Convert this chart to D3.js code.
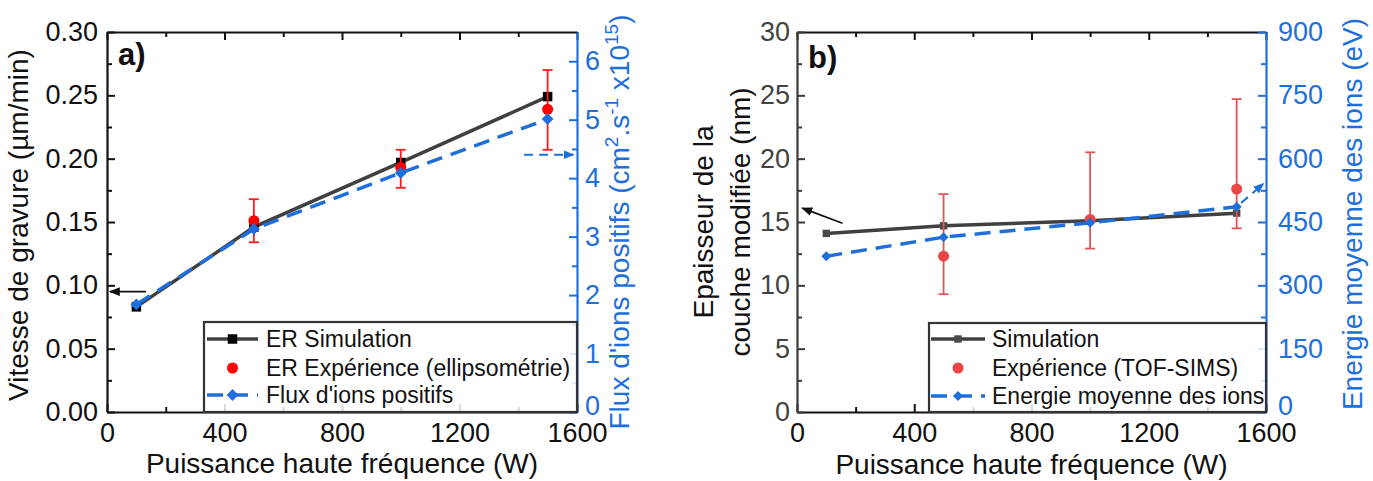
<!DOCTYPE html>
<html>
<head>
<meta charset="utf-8">
<script src="https://cdn.jsdelivr.net/npm/d3@7"></script>
<style>
  body { margin: 0; background: #fff; }
  text { font-family: "Liberation Sans", Arial, sans-serif; }
</style>
</head>
<body>
<svg id="chart" width="1373" height="481"></svg>
<script>
// ---- data panel a) ----
const powerA = [100, 500, 1000, 1500];
const erSimulation = [0.083, 0.146, 0.197, 0.249];
const erExpPower = [500, 1000, 1500];
const erExperience = [0.151, 0.193, 0.239];
const erExpLow = [0.134, 0.177, 0.207];
const erExpHigh = [0.168, 0.207, 0.270];
const ionFlux = [1.84, 3.13, 4.09, 5.01];

// ---- data panel b) ----
const powerB = [100, 500, 1000, 1500];
const thickSimulation = [14.1, 14.7, 15.1, 15.7];
const thickExpPower = [500, 1000, 1500];
const thickExperience = [12.3, 15.2, 17.6];
const thickLow = [9.3, 12.9, 14.5];
const thickHigh = [17.2, 20.5, 24.7];
const ionEnergy = [369, 414, 448, 486];

// ---- ticks ----
const xTicks = [0, 400, 800, 1200, 1600];
const xMinor = [200, 600, 1000, 1400];
const rateTicks = [0, 0.05, 0.10, 0.15, 0.20, 0.25, 0.30];
const rateMinor = [0.025, 0.075, 0.125, 0.175, 0.225, 0.275];
const fluxTicks = [0, 1, 2, 3, 4, 5, 6];
const fluxMinor = [0.5, 1.5, 2.5, 3.5, 4.5, 5.5];
const thickTicks = [0, 5, 10, 15, 20, 25, 30];
const thickMinor = [2.5, 7.5, 12.5, 17.5, 22.5, 27.5];
const energyTicks = [0, 150, 300, 450, 600, 750, 900];
const energyMinor = [75, 225, 375, 525, 675, 825];

// arrows pointing to the matching axis (data units)
const arrowRate = [[133, 0.095], [10, 0.095]];
const arrowFlux = [[1420, 4.4], [1588, 4.4]];
const arrowThick = [[155, 14.9], [18, 16.1]];
const arrowEnergy = [[1515, 495], [1592, 541]];

const BLUE = "#1e6fdc";
const svg = d3.select("#chart");

const defs = svg.append("defs");
function arrowHead(id, color) {
    defs.append("marker")
        .attr("id", id)
        .attr("viewBox", "0 0 10 8")
        .attr("refX", 9).attr("refY", 4)
        .attr("markerWidth", 11).attr("markerHeight", 9)
        .attr("markerUnits", "userSpaceOnUse")
        .attr("orient", "auto")
        .append("path")
        .attr("d", "M0,0 L10,4 L0,8 Z")
        .attr("fill", color);
}
arrowHead("headBlack", "#111");
arrowHead("headBlue", BLUE);

const square = d3.symbol().type(d3.symbolSquare);

function drawPanel(c) {
    const g = svg.append("g");
    const top = 32, bottom = 412;
    const x = d3.scaleLinear().domain([0, 1600]).range([c.left, c.right]);
    const y = d3.scaleLinear().domain([0, c.yMax]).range([bottom, top]);
    const y2 = d3.scaleLinear().domain([0, c.y2Max]).range([bottom, top]);

    // --- axes (ticks inside) ---
    function styleAxis(sel, color, textColor) {
        sel.selectAll("path.domain").attr("stroke", color).attr("stroke-width", 2.2);
        sel.selectAll(".tick line").attr("stroke", color).attr("stroke-width", 2);
        sel.selectAll(".tick text").attr("fill", textColor || color).style("font-size", "27px")
            .style("font-family", "'Liberation Sans', Arial, sans-serif");
    }
    function minor(axis, vals) {
        return axis.tickValues(vals).tickSize(-5).tickFormat("");
    }

    const gx = g.append("g").attr("transform", `translate(0,${bottom})`)
        .call(d3.axisBottom(x).tickValues(xTicks).tickSize(-8).tickSizeOuter(0)
            .tickPadding(11).tickFormat(d3.format("d")));
    styleAxis(gx, "#111");
    const gxm = g.append("g").attr("transform", `translate(0,${bottom})`).call(minor(d3.axisBottom(x), xMinor));
    gxm.select(".domain").remove(); styleAxis(gxm, "#111");

    const gt = g.append("g").attr("transform", `translate(0,${top})`)
        .call(d3.axisTop(x).tickValues(xTicks).tickSize(-8).tickSizeOuter(0).tickFormat(""));
    styleAxis(gt, "#111");
    const gtm = g.append("g").attr("transform", `translate(0,${top})`).call(minor(d3.axisTop(x), xMinor));
    gtm.select(".domain").remove(); styleAxis(gtm, "#111");

    const gl = g.append("g").attr("transform", `translate(${c.left},0)`)
        .call(d3.axisLeft(y).tickValues(c.yTicks).tickSize(-8).tickSizeOuter(0)
            .tickPadding(c.leftPad).tickFormat(c.yFormat));
    styleAxis(gl, c.leftColor, c.leftText);
    const glm = g.append("g").attr("transform", `translate(${c.left},0)`).call(minor(d3.axisLeft(y), c.yMinor));
    glm.select(".domain").remove(); styleAxis(glm, c.leftColor);

    const gr = g.append("g").attr("transform", `translate(${c.right},0)`)
        .call(d3.axisRight(y2).tickValues(c.y2Ticks).tickSize(-8).tickSizeOuter(0)
            .tickPadding(c.rightPad).tickFormat(d3.format("d")));
    styleAxis(gr, BLUE);
    // lift the "0" label a little so it clears the x tick labels
    gr.selectAll(".tick text").filter(d => d === 0).attr("dy", "0.1em");
    const grm = g.append("g").attr("transform", `translate(${c.right},0)`).call(minor(d3.axisRight(y2), c.y2Minor));
    grm.select(".domain").remove(); styleAxis(grm, BLUE);

    // --- simulation line + squares ---
    const simPts = c.power.map((p, i) => [p, c.sim[i]]);
    g.append("path")
        .datum(simPts)
        .attr("fill", "none")
        .attr("stroke", "#404040")
        .attr("stroke-width", 3.5)
        .attr("d", d3.line().x(d => x(d[0])).y(d => y(d[1])));
    g.selectAll(".sq")
        .data(simPts)
        .join("path")
        .attr("transform", d => `translate(${x(d[0])},${y(d[1])})`)
        .attr("d", square.size(c.sqSize))
        .attr("fill", c.sqColor);

    // --- experiment with error bars ---
    const expPts = c.expPower.map((p, i) => ({ p, v: c.exp[i], lo: c.expLow[i], hi: c.expHigh[i] }));
    const eb = g.selectAll(".eb").data(expPts).join("g").attr("stroke", c.errColor).attr("stroke-width", 1.8);
    eb.append("line").attr("x1", d => x(d.p)).attr("x2", d => x(d.p)).attr("y1", d => y(d.lo)).attr("y2", d => y(d.hi));
    eb.append("line").attr("x1", d => x(d.p) - 5).attr("x2", d => x(d.p) + 5).attr("y1", d => y(d.lo)).attr("y2", d => y(d.lo));
    eb.append("line").attr("x1", d => x(d.p) - 5).attr("x2", d => x(d.p) + 5).attr("y1", d => y(d.hi)).attr("y2", d => y(d.hi));
    g.selectAll(".dot")
        .data(expPts)
        .join("circle")
        .attr("cx", d => x(d.p))
        .attr("cy", d => y(d.v))
        .attr("r", c.dotR)
        .attr("fill", c.dotColor);

    // --- blue dashed series on right axis ---
    const bluePts = c.power.map((p, i) => [p, c.blue[i]]);
    g.append("path")
        .datum(bluePts)
        .attr("fill", "none")
        .attr("stroke", BLUE)
        .attr("stroke-width", 3.5)
        .attr("stroke-dasharray", "16,9")
        .attr("d", d3.line().x(d => x(d[0])).y(d => y2(d[1])));
    g.selectAll(".dia")
        .data(bluePts)
        .join("path")
        .attr("transform", d => `translate(${x(d[0])},${y2(d[1])}) rotate(45)`)
        .attr("d", square.size(c.diaSize))
        .attr("fill", BLUE);

    // --- arrows ---
    g.append("line")
        .attr("x1", x(c.arrowLeft[0][0])).attr("y1", y(c.arrowLeft[0][1]))
        .attr("x2", x(c.arrowLeft[1][0])).attr("y2", y(c.arrowLeft[1][1]))
        .attr("stroke", "#111").attr("stroke-width", 1.8)
        .attr("marker-end", "url(#headBlack)");
    g.append("line")
        .attr("x1", x(c.arrowRight[0][0])).attr("y1", y2(c.arrowRight[0][1]))
        .attr("x2", x(c.arrowRight[1][0])).attr("y2", y2(c.arrowRight[1][1]))
        .attr("stroke", BLUE).attr("stroke-width", 2)
        .attr("stroke-dasharray", "9,6")
        .attr("marker-end", "url(#headBlue)");

    // --- legend ---
    const L = c.legend;
    const lg = g.append("g");
    lg.append("rect")
        .attr("x", L.x).attr("y", L.y).attr("width", c.right - L.x).attr("height", bottom - L.y)
        .attr("fill", "#fff").attr("fill-opacity", 0.85)
        .attr("stroke", "#333").attr("stroke-width", 2.2);
    const mid = (L.x0 + L.x1) / 2;
    L.labels.forEach((t, i) => {
        const cy = L.rows[i];
        if (i === 0) {
            lg.append("line").attr("x1", L.x0).attr("x2", L.x1).attr("y1", cy).attr("y2", cy)
                .attr("stroke", "#404040").attr("stroke-width", 3.5);
            lg.append("path").attr("transform", `translate(${mid},${cy})`)
                .attr("d", square.size(c.sqSize)).attr("fill", c.sqColor);
        } else if (i === 1) {
            lg.append("circle").attr("cx", mid).attr("cy", cy).attr("r", c.dotR).attr("fill", c.dotColor);
        } else {
            lg.append("line").attr("x1", L.x0).attr("x2", L.x1).attr("y1", cy).attr("y2", cy)
                .attr("stroke", BLUE).attr("stroke-width", 3.5).attr("stroke-dasharray", "16,9");
            lg.append("path").attr("transform", `translate(${mid},${cy}) rotate(45)`)
                .attr("d", square.size(c.diaSize)).attr("fill", BLUE);
        }
        lg.append("text").attr("x", L.tx).attr("y", cy + 8)
            .style("font-size", "23px").attr("fill", "#111").text(t);
    });

    // --- panel label ---
    g.append("text").attr("x", c.left + 11).attr("y", c.tagY)
        .style("font-size", "31px").style("font-weight", "bold").attr("fill", "#111").text(c.tag);

    // --- axis titles ---
    g.append("text")
        .attr("x", (c.left + c.right) / 2).attr("y", c.xTitleY)
        .attr("text-anchor", "middle").style("font-size", "28px").attr("fill", "#111")
        .text("Puissance haute fréquence (W)");

    c.leftTitle.forEach((t, i) => {
        g.append("text")
            .attr("transform", `translate(${c.leftTitleX[i]},${c.leftTitleY}) rotate(-90)`)
            .attr("text-anchor", "middle").style("font-size", "28px").attr("fill", "#111")
            .text(t);
    });

    // right title, superscripts as raised tspans
    const rt = g.append("text")
        .attr("transform", `translate(${c.rightTitleX},${c.rightTitleY}) rotate(-90)`)
        .attr("text-anchor", "middle").style("font-size", "28px").attr("fill", BLUE);
    let shift = 0;
    c.rightTitle.forEach(part => {
        const ts = rt.append("tspan");
        if (part.sup) {
            ts.attr("dy", -11 - shift).style("font-size", "19px").text(part.sup);
            shift = -11;
        } else {
            ts.attr("dy", -shift).text(part.t);
            shift = 0;
        }
    });
}

drawPanel({
    left: 107, right: 577,
    yMax: 0.30, y2Max: 6.5,
    yTicks: rateTicks, yMinor: rateMinor, yFormat: d3.format(".2f"),
    y2Ticks: fluxTicks, y2Minor: fluxMinor,
    leftColor: "#111", leftText: "#111", leftPad: 9, rightPad: 8,
    power: powerA, sim: erSimulation, blue: ionFlux,
    expPower: erExpPower, exp: erExperience, expLow: erExpLow, expHigh: erExpHigh,
    sqSize: 90, sqColor: "#000", diaSize: 70, dotR: 5.5, dotColor: "#ff0000", errColor: "#ff1a1a",
    arrowLeft: arrowRate, arrowRight: arrowFlux,
    legend: {
        x: 204, y: 322, x0: 207, x1: 258, tx: 266, rows: [339, 368, 395],
        labels: ["ER Simulation", "ER Expérience (ellipsométrie)", "Flux d'ions positifs"]
    },
    tag: "a)", tagY: 65,
    xTitleY: 473,
    leftTitle: ["Vitesse de gravure (µm/min)"], leftTitleX: [28], leftTitleY: 225,
    rightTitle: [{ t: "Flux d'ions positifs (cm" }, { sup: "2" }, { t: ".s" }, { sup: "-1" },
        { t: " x10" }, { sup: "15" }, { t: ")" }],
    rightTitleX: 629, rightTitleY: 222
});

drawPanel({
    left: 797, right: 1266,
    yMax: 30, y2Max: 900,
    yTicks: thickTicks, yMinor: thickMinor, yFormat: d3.format("d"),
    y2Ticks: energyTicks, y2Minor: energyMinor,
    leftColor: "#3a3a3a", leftText: "#444", leftPad: 7, rightPad: 12,
    power: powerB, sim: thickSimulation, blue: ionEnergy,
    expPower: thickExpPower, exp: thickExperience, expLow: thickLow, expHigh: thickHigh,
    sqSize: 55, sqColor: "#4a4a4a", diaSize: 50, dotR: 5.5, dotColor: "#ec4545", errColor: "#e25555",
    arrowLeft: arrowThick, arrowRight: arrowEnergy,
    legend: {
        x: 929, y: 323, x0: 931, x1: 985, tx: 992, rows: [339, 368, 396],
        labels: ["Simulation", "Expérience (TOF-SIMS)", "Energie moyenne des ions"]
    },
    tag: "b)", tagY: 68,
    xTitleY: 474,
    leftTitle: ["Epaisseur de la", "couche modifiée (nm)"], leftTitleX: [713, 750], leftTitleY: 222,
    rightTitle: [{ t: "Energie moyenne des ions (eV)" }],
    rightTitleX: 1362, rightTitleY: 214
});
</script>
</body>
</html>
